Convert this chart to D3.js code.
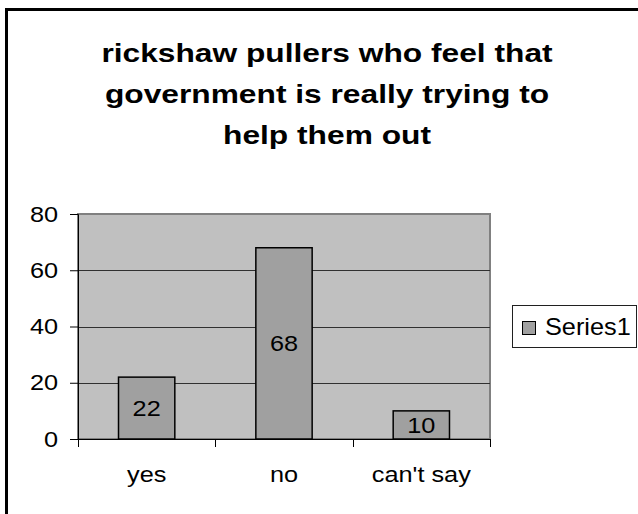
<!DOCTYPE html>
<html>
<head>
<meta charset="utf-8">
<script src="https://cdn.jsdelivr.net/npm/d3@7"></script>
<style>
  html, body { margin: 0; padding: 0; background: #fff; }
  svg { display: block; font-family: "Liberation Sans", Arial, sans-serif; }
</style>
</head>
<body>
<svg id="chart" width="638" height="514"></svg>
<script>
// Survey answers and counts
const categories = ["yes", "no", "can't say"];
const values = [22, 68, 10];
const yTicks = [0, 20, 40, 60, 80];
const seriesName = "Series1";
const titleLines = [
  "rickshaw pullers who feel that",
  "government is really trying to",
  "help them out"
];

// text is drawn slightly widened, as in the chart's original export
const TEXT_SX = 1.15;
const TITLE_SX = 1.22;

const svg = d3.select("#chart");

// place a text at (px, py) with a horizontal stretch about its anchor
function stretched(sel, px, py, sx) {
  return sel.attr("x", 0).attr("y", 0)
    .attr("transform", (d, i) => `translate(${px(d, i)},${py(d, i)}) scale(${sx},1)`);
}

// chart frame, running off the right and bottom edges
svg.append("rect")
  .attr("x", 6.5).attr("y", 9.5)
  .attr("width", 700).attr("height", 600)
  .attr("fill", "#fff").attr("stroke", "#000").attr("stroke-width", 3);

// title
svg.append("g").selectAll("text")
  .data(titleLines)
  .join("text")
  .call(stretched, () => 327, (d, i) => 62 + i * 41, TITLE_SX)
  .attr("text-anchor", "middle")
  .attr("font-size", 26)
  .attr("font-weight", "bold")
  .attr("fill", "#000")
  .text(d => d);

const plot = { left: 78, right: 490, top: 214, bottom: 439 };

const x = d3.scaleBand()
  .domain(categories)
  .range([plot.left, plot.right])
  .paddingInner(0.59)
  .paddingOuter(0.295);

const y = d3.scaleLinear()
  .domain([0, 80])
  .range([plot.bottom, plot.top]);

// plot area background
svg.append("rect")
  .attr("x", plot.left).attr("y", plot.top)
  .attr("width", plot.right - plot.left).attr("height", plot.bottom - plot.top)
  .attr("fill", "#c0c0c0")
  .attr("stroke", "#808080").attr("stroke-width", 2);

// horizontal gridlines
svg.append("g").selectAll("line")
  .data(yTicks.filter(d => d > 0 && d < 80))
  .join("line")
  .attr("x1", plot.left).attr("x2", plot.right)
  .attr("y1", d => Math.round(y(d)) + 0.5).attr("y2", d => Math.round(y(d)) + 0.5)
  .attr("stroke", "#303030").attr("stroke-width", 1);

// bars
svg.append("g").selectAll("rect")
  .data(values)
  .join("rect")
  .attr("x", (d, i) => x(categories[i]))
  .attr("y", d => y(d))
  .attr("width", x.bandwidth())
  .attr("height", d => y(0) - y(d))
  .attr("fill", "#a0a0a0")
  .attr("stroke", "#000").attr("stroke-width", 1.5);

// value labels inside the bars
svg.append("g").selectAll("text")
  .data(values)
  .join("text")
  .call(stretched,
    (d, i) => x(categories[i]) + x.bandwidth() / 2,
    d => (y(d) + y(0)) / 2 + 8,
    TEXT_SX)
  .attr("text-anchor", "middle")
  .attr("font-size", 22)
  .attr("fill", "#000")
  .text(d => d);

// y axis
const yAxis = d3.axisLeft(y)
  .tickValues(yTicks)
  .tickSize(8)
  .tickPadding(12);
const gy = svg.append("g")
  .attr("transform", `translate(${plot.left},0)`)
  .call(yAxis);
gy.select(".domain").attr("stroke", "#000").attr("stroke-width", 1);
gy.selectAll(".tick line").attr("stroke", "#000");
gy.selectAll(".tick text")
  .attr("font-size", 22)
  .attr("font-family", "Liberation Sans, Arial, sans-serif")
  .attr("fill", "#000")
  .attr("transform", `translate(-20,0) scale(${TEXT_SX},1) translate(20,0)`);

// x axis: ticks sit on category boundaries
const xAxisG = svg.append("g");
xAxisG.append("line")
  .attr("x1", plot.left).attr("x2", plot.right)
  .attr("y1", plot.bottom + 0.5).attr("y2", plot.bottom + 0.5)
  .attr("stroke", "#000");
const boundaries = d3.range(categories.length + 1)
  .map(i => plot.left + i * (plot.right - plot.left) / categories.length);
xAxisG.selectAll("line.tick")
  .data(boundaries)
  .join("line")
  .attr("class", "tick")
  .attr("x1", d => Math.round(d) + 0.5).attr("x2", d => Math.round(d) + 0.5)
  .attr("y1", plot.bottom).attr("y2", plot.bottom + 8)
  .attr("stroke", "#000");
xAxisG.selectAll("text")
  .data(categories)
  .join("text")
  .call(stretched, d => x(d) + x.bandwidth() / 2, () => 482, TEXT_SX)
  .attr("text-anchor", "middle")
  .attr("font-size", 22)
  .attr("fill", "#000")
  .text(d => d);

// legend
const legend = svg.append("g");
legend.append("rect")
  .attr("x", 512.5).attr("y", 305.5)
  .attr("width", 124).attr("height", 42)
  .attr("fill", "#fff").attr("stroke", "#202020").attr("stroke-width", 1);
legend.append("rect")
  .attr("x", 522.5).attr("y", 321.5)
  .attr("width", 13).attr("height", 13)
  .attr("fill", "#a0a0a0").attr("stroke", "#000").attr("stroke-width", 1);
legend.append("text")
  .datum(seriesName)
  .call(stretched, () => 545, () => 335, 1.1)
  .attr("font-size", 23)
  .attr("fill", "#000")
  .text(d => d);
</script>
</body>
</html>
